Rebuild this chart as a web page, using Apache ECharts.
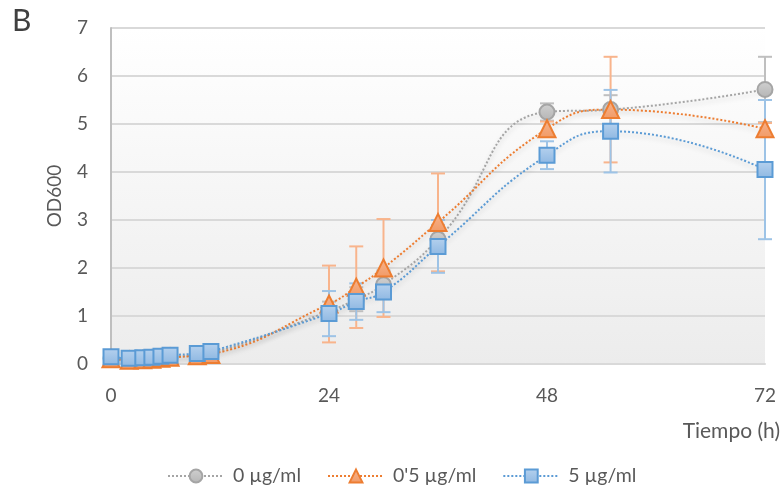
<!DOCTYPE html>
<html><head><meta charset="utf-8">
<script src="https://cdn.jsdelivr.net/npm/echarts@6/dist/echarts.min.js"></script>
<style>html,body{margin:0;padding:0;background:#fff}#c{width:784px;height:492px}</style>
</head><body><div id="c"></div>
<script>
const times = [0, 2, 3.5, 4.5, 5.5, 6.5, 9.5, 11, 24, 27, 30, 36, 48, 55, 72];
const od0   = [0.12, 0.1, 0.1, 0.11, 0.12, 0.14, 0.18, 0.22, 1.1, 1.35, 1.65, 2.6, 5.25, 5.3, 5.72];
const err0  = [0.02, 0.02, 0.02, 0.02, 0.02, 0.02, 0.03, 0.03, 0.2, 0.25, 0.3, 0.3, 0.18, 0.3, 0.68];
const od05  = [0.11, 0.08, 0.09, 0.1, 0.12, 0.14, 0.17, 0.2, 1.25, 1.6, 2.0, 2.95, 4.9, 5.3, 4.9];
const err05 = [0.01, 0.01, 0.01, 0.01, 0.01, 0.01, 0.02, 0.02, 0.8, 0.85, 1.02, 1.02, 0.15, 1.1, 0.12];
const od5   = [0.15, 0.12, 0.13, 0.14, 0.16, 0.18, 0.22, 0.26, 1.05, 1.3, 1.5, 2.45, 4.35, 4.85, 4.05];
const err5  = [0.02, 0.02, 0.02, 0.02, 0.02, 0.02, 0.03, 0.03, 0.47, 0.38, 0.42, 0.55, 0.29, 0.86, 1.45];
const names = ['0 µg/ml', "0'5 µg/ml", '5 µg/ml'];
const xTicks = [0, 24, 48, 72];
const yTicks = [0, 1, 2, 3, 4, 5, 6, 7];

const FONT = 'Lato, "Open Sans", sans-serif';
const TXT = '#595959';

function pts(v){ return times.map((t,i)=>[t, v[i]]); }
function errData(v,e){ return times.map((t,i)=>[t, v[i], e[i]]); }

function errSeries(v, e, color){
  return {
    type:'custom', silent:true, z:1, legendHoverLink:false,
    data: errData(v,e),
    renderItem: function(params, api){
      const x = api.value(0), y = api.value(1), d = api.value(2);
      const top = api.coord([x, y + d]);
      const bot = api.coord([x, y - d]);
      const w = 7;
      const st = {stroke: color, lineWidth: 2};
      return {type:'group', children:[
        {type:'line', shape:{x1:top[0], y1:top[1], x2:bot[0], y2:bot[1]}, style:st},
        {type:'line', shape:{x1:top[0]-w, y1:top[1], x2:top[0]+w, y2:top[1]}, style:st},
        {type:'line', shape:{x1:bot[0]-w, y1:bot[1], x2:bot[0]+w, y2:bot[1]}, style:st}
      ]};
    }
  };
}

function grad(c1, c2){
  return {type:'linear', x:0, y:0, x2:0, y2:1, colorStops:[{offset:0,color:c1},{offset:1,color:c2}]};
}

function lineSeries(name, v, lineColor, symbol, size, fill, border){
  return {
    name: name, type:'line', z:3, data: pts(v), smooth:0.5,
    symbol: symbol, symbolSize: size, showAllSymbol:true,
    lineStyle:{color: lineColor, width:2, type:[2,2],
      shadowColor:'rgba(0,0,0,0.18)', shadowBlur:5, shadowOffsetY:3},
    itemStyle:{color: fill, borderColor: border, borderWidth:2},
    emphasis:{disabled:true}
  };
}

const chart = echarts.init(document.getElementById('c'), null, {renderer:'canvas'});
chart.setOption({
  animation:false,
  textStyle:{fontFamily: FONT},
  grid:{left:111, right:19, top:28, bottom:128, show:true, borderWidth:0,
    backgroundColor: grad('#ffffff', '#ececec')},
  legend:{
    data: names, left:162, top:461, itemWidth:56, itemHeight:16, itemGap:26,
    textStyle:{fontSize:19.5, color:TXT, fontFamily:FONT, padding:[0,0,0,4]}
  },
  xAxis:{
    type:'value', min:xTicks[0], max:xTicks[xTicks.length-1], interval:24,
    axisLine:{show:true, lineStyle:{color:'#d9d9d9', width:2}},
    axisTick:{show:false}, splitLine:{show:false},
    axisLabel:{color:TXT, fontSize:19, margin:22, fontFamily:FONT}
  },
  yAxis:{
    type:'value', min:yTicks[0], max:yTicks[yTicks.length-1], interval:1,
    axisLine:{show:true, lineStyle:{color:'#bfbfbf', width:2}},
    axisTick:{show:false},
    splitLine:{show:true, lineStyle:{color:'#d9d9d9', width:2}},
    axisLabel:{color:TXT, fontSize:19, margin:23, fontFamily:FONT}
  },
  graphic:[
    {type:'text', left:12, top:6, style:{text:'B', fontSize:30, fill:'#404040', fontFamily:FONT}},
    {type:'text', x:55, y:196, rotation:Math.PI/2,
      style:{text:'OD600', fontSize:19, fill:TXT, fontFamily:FONT, align:'center', verticalAlign:'middle'}},
    {type:'text', x:780, y:431,
      style:{text:'Tiempo (h)', fontSize:21, fill:TXT, fontFamily:FONT, align:'right', verticalAlign:'middle'}}
  ],
  series:[
    errSeries(od0, err0, '#bfbfbf'),
    errSeries(od05, err05, '#f8b48c'),
    errSeries(od5, err5, '#9dc3e6'),
    lineSeries(names[0], od0, '#a5a5a5', 'circle', 15, grad('#d0d0d0','#b5b5b5'), '#a5a5a5'),
    lineSeries(names[1], od05, '#ed7d31', 'triangle', 17, grad('#f7b48e','#f19a66'), '#ed7d31'),
    lineSeries(names[2], od5, '#5b9bd5', 'rect', 15, grad('#b5d1ee','#8fb8e2'), '#5b9bd5')
  ]
});
</script></body></html>
